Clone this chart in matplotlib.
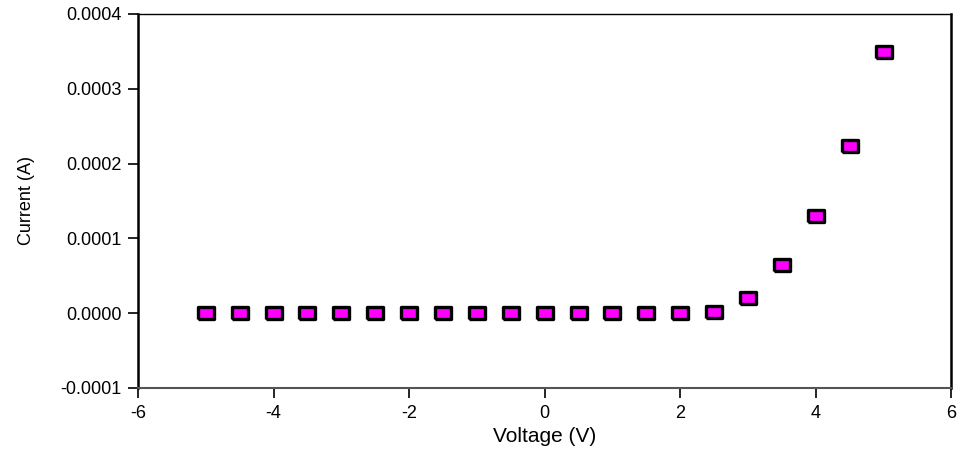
import matplotlib.pyplot as plt
from matplotlib.ticker import FormatStrFormatter

plt.rcParams['font.family'] = ['Liberation Sans', 'DejaVu Sans']
plt.rcParams['axes.unicode_minus'] = False

# I-V measurement
voltage = [-5.0, -4.5, -4.0, -3.5, -3.0, -2.5, -2.0, -1.5, -1.0, -0.5,
           0.0, 0.5, 1.0, 1.5, 2.0, 2.5, 3.0, 3.5, 4.0, 4.5, 5.0]
current = [0, 0, 0, 0, 0, 0, 0, 0, 0, 0,
           0, 0, 0, 0, 0.0000002, 0.0000015, 0.0000200, 0.0000642,
           0.000130, 0.000223, 0.000349]

# wide rectangular marker
rect = [(-1.25, -1), (1.25, -1), (1.25, 1), (-1.25, 1), (-1.25, -1)]

fig = plt.figure(figsize=(9.58, 4.49), dpi=100)
ax = fig.add_axes([0.144, 0.136, 0.849, 0.833])

ax.plot(voltage, current, linestyle='none', marker=rect, markersize=11,
        markerfacecolor='#ff00ff', markeredgecolor='black', markeredgewidth=2.4)

ax.set_xlim(-6, 6)
ax.set_ylim(-0.0001, 0.0004)
ax.set_xticks([-6, -4, -2, 0, 2, 4, 6])
ax.set_yticks([-0.0001, 0.0, 0.0001, 0.0002, 0.0003, 0.0004])
ax.yaxis.set_major_formatter(FormatStrFormatter('%.4f'))

ax.tick_params(direction='out', length=7, width=1.2, labelsize=13, pad=5)
for side in ['left', 'right']:
    ax.spines[side].set_linewidth(1.8)
ax.spines['top'].set_linewidth(1.0)
ax.spines['bottom'].set_linewidth(1.5)
ax.spines['bottom'].set_color('#555555')

ax.set_xlabel('Voltage (V)', fontsize=15, labelpad=4)
ax.set_ylabel('Current (A)', fontsize=13, labelpad=18)

fig.savefig('out.png', dpi=100)
